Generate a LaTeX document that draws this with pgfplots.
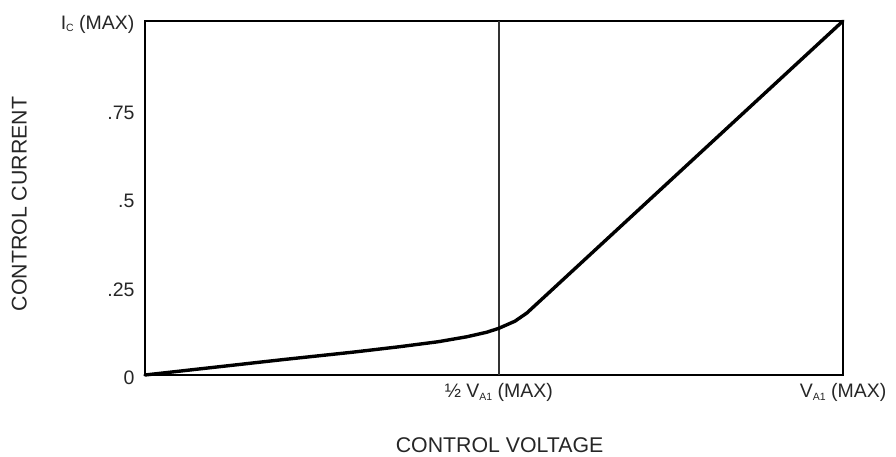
\documentclass[border=0pt]{standalone}
\usepackage{fontspec}
\setmainfont{Liberation Sans}
\usepackage{pgfplots}
\pgfplotsset{compat=1.18}
\newcommand{\sub}[1]{\raisebox{-2.5pt}{\fontsize{10.5}{10.5}\selectfont #1}}
\begin{document}
\begin{tikzpicture}
\useasboundingbox (-145pt,-81pt) rectangle (751pt,375pt);
\begin{axis}[
  at={(0pt,0pt)}, anchor=south west,
  scale only axis, width=698pt, height=354pt,
  xmin=0, xmax=1, ymin=0, ymax=1,
  axis line style={line width=2.8pt},
  tick style={draw=none},
  ytick={0,0.25,0.5,0.75,1},
  yticklabels={0,.25,.5,.75,{I\sub{C} (MAX)}},
  xtick={0.507,1},
  xticklabels={{½ V\sub{A1} (MAX)},{V\sub{A1} (MAX)}},
  /pgf/number format/assume math mode=true,
  ticklabel style={font=\fontsize{19.5}{21}\selectfont, text=black!85},
  yticklabel style={anchor=east, xshift=-7pt, yshift=-3pt},
  xticklabel style={anchor=north, yshift=-5pt},
  xlabel={CONTROL VOLTAGE},
  ylabel={CONTROL CURRENT},
  label style={font=\fontsize{21.3}{23}\selectfont, text=black!85},
  xlabel style={at={(axis description cs:0.508,-0.198)}, anchor=center},
  ylabel style={at={(axis description cs:-0.18,0.483)}, anchor=center, rotate=0},
  clip=false,
]
\addplot[black!80, line width=1.4pt] coordinates {(0.507,0) (0.507,1)};
\addplot[black, line width=3.4pt, line join=round, line cap=round] coordinates {
(0,0) (0.1,0.022) (0.2,0.044) (0.3,0.065) (0.365,0.080) (0.42,0.094)
(0.461,0.108) (0.49,0.121) (0.507,0.132) (0.53,0.152) (0.547,0.175)
(0.58,0.235) (1,1)};
\end{axis}
\end{tikzpicture}
\end{document}
